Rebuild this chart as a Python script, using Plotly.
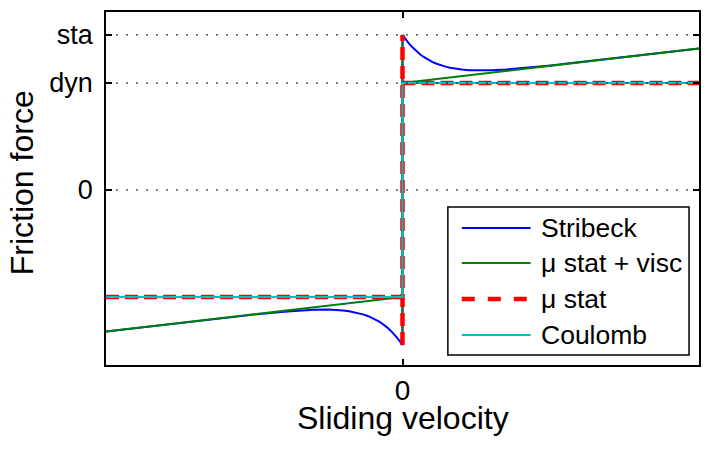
import plotly.graph_objects as go

# ---------------- data ----------------
stribeck_v = [-1.0, -0.9, -0.8, -0.7, -0.6, -0.5, -0.4, -0.35, -0.3, -0.25, -0.225, -0.2, -0.18, -0.16,
              -0.145, -0.13, -0.115, -0.1, -0.09, -0.08, -0.07, -0.06, -0.05, -0.04, -0.03, -0.02,
              -0.01, -0.005, 0.0,
              0.0, 0.005, 0.01, 0.02, 0.03, 0.04, 0.05, 0.06, 0.07, 0.08, 0.09, 0.1, 0.115, 0.13,
              0.145, 0.16, 0.18, 0.2, 0.225, 0.25, 0.3, 0.35, 0.4, 0.5, 0.6, 0.7, 0.8, 0.9, 1.0]
stribeck_f = [-1.324, -1.292, -1.259, -1.227, -1.196, -1.165, -1.138, -1.127, -1.120, -1.118, -1.120,
              -1.126, -1.133, -1.143, -1.153, -1.165, -1.180, -1.198, -1.212, -1.228, -1.246, -1.266,
              -1.289, -1.315, -1.343, -1.375, -1.410, -1.430, -1.45,
              1.45, 1.430, 1.410, 1.375, 1.343, 1.315, 1.289, 1.266, 1.246, 1.228, 1.212, 1.198,
              1.180, 1.165, 1.153, 1.143, 1.133, 1.126, 1.120, 1.118, 1.120, 1.127, 1.138, 1.165,
              1.196, 1.227, 1.259, 1.292, 1.324]

visc_v = [-1.0, 0.0, None, 0.0, 0.0, None, 0.0, 1.0]
visc_f = [-1.324, -1.0, None, -1.45, 1.45, None, 1.0, 1.324]

stat_v = [-1.0, 0.0, None, 0.0, 0.0, None, 0.0, 1.0]
stat_f = [-1.0, -1.0, None, -1.45, 1.45, None, 1.0, 1.0]

coul_v = [-1.0, 0.0, 0.0, 1.0]
coul_f = [-1.0, -1.0, 1.0, 1.0]

y_tick_vals = [0.0, 1.0, 1.45]
y_tick_text = ["0", "dyn", "sta"]
x_tick_vals = [0.0]
x_tick_text = ["0"]

x_title = "Sliding velocity"
y_title = "Friction force"

series_names = ["Stribeck", "\u03bc stat + visc", "\u03bc stat", "Coulomb"]
series_colors = ["#0000ff", "#008000", "#ff0000", "#00bfbf"]

FONT = "Liberation Sans, Arial, sans-serif"

fig = go.Figure()
fig.add_trace(go.Scatter(x=stribeck_v, y=stribeck_f, mode="lines", name=series_names[0],
                         line=dict(color=series_colors[0], width=2)))
fig.add_trace(go.Scatter(x=visc_v, y=visc_f, mode="lines", name=series_names[1], connectgaps=False,
                         line=dict(color=series_colors[1], width=2)))
fig.add_trace(go.Scatter(x=stat_v, y=stat_f, mode="lines", name=series_names[2], connectgaps=False,
                         line=dict(color=series_colors[2], width=4.5, dash="13px,6px")))
fig.add_trace(go.Scatter(x=coul_v, y=coul_f, mode="lines", name=series_names[3],
                         line=dict(color=series_colors[3], width=2)))

# dotted grid drawn above the traces (as in the reference)
for yv in y_tick_vals:
    fig.add_shape(type="line", xref="paper", yref="y", x0=0, x1=1, y0=yv, y1=yv,
                  line=dict(color="black", width=1, dash="2px,8px"), layer="above")

# manual legend
lx0, lx1, ly0, ly1 = 0.5765, 0.9832, 0.0283, 0.4476
fig.add_shape(type="rect", xref="paper", yref="paper", x0=lx0, x1=lx1, y0=ly0, y1=ly1,
              line=dict(color="black", width=1.5), fillcolor="white", layer="above")
row_y = [0.3881, 0.2890, 0.1870, 0.0850]
dashes = ["solid", "solid", "13px,13px", "solid"]
widths = [2, 2, 4.5, 2]
for i, name in enumerate(series_names):
    fig.add_shape(type="line", xref="paper", yref="paper", x0=0.600, x1=0.716,
                  y0=row_y[i], y1=row_y[i], layer="above",
                  line=dict(color=series_colors[i], width=widths[i], dash=dashes[i]))
    fig.add_annotation(xref="paper", yref="paper", x=0.7294, y=row_y[i], text=name,
                       showarrow=False, xanchor="left", yanchor="middle",
                       font=dict(family=FONT, size=26.5, color="black"))

# axis titles
fig.add_annotation(xref="paper", yref="paper", x=0.5, y=-0.1501, text=x_title,
                   showarrow=False, xanchor="center", yanchor="middle",
                   font=dict(family=FONT, size=32, color="black"))
fig.add_annotation(xref="paper", yref="paper", x=-0.1412, y=0.5156, text=y_title,
                   showarrow=False, xanchor="center", yanchor="middle", textangle=-90,
                   font=dict(family=FONT, size=32, color="black"))

fig.update_layout(
    width=711, height=450,
    margin=dict(l=106, r=10, t=12, b=85),
    paper_bgcolor="white", plot_bgcolor="white",
    showlegend=False,
    font=dict(family=FONT, color="black"),
)
fig.update_xaxes(range=[-1, 1], tickvals=x_tick_vals, ticktext=x_tick_text,
                 ticks="inside", ticklen=6, tickwidth=1.5, tickcolor="black",
                 showline=True, linewidth=1.5, linecolor="black", mirror="ticks",
                 showgrid=False, zeroline=False, layer="above traces",
                 tickfont=dict(family=FONT, size=28, color="black"), ticklabelstandoff=0)
fig.update_yaxes(range=[-1.636, 1.664], tickvals=y_tick_vals, ticktext=y_tick_text,
                 ticks="inside", ticklen=6, tickwidth=1.5, tickcolor="black",
                 showline=True, linewidth=1.5, linecolor="black", mirror="ticks",
                 showgrid=False, zeroline=False, layer="above traces",
                 tickfont=dict(family=FONT, size=27, color="black"), ticklabelstandoff=6)

fig.write_html("out.html")
